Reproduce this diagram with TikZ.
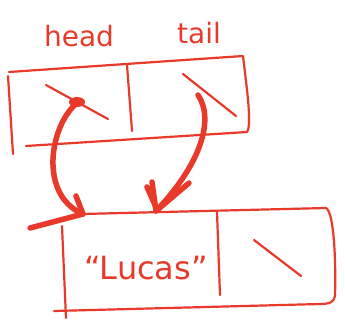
\documentclass[tikz,border=0pt]{standalone}
\usepackage{fontspec}
\setmainfont{DejaVu Sans}
\definecolor{ink}{HTML}{E8392A}
\tikzset{
  pen/.style={draw=ink, line width=2.2pt, line cap=round, line join=round},
  thick pen/.style={draw=ink, line width=5.5pt, line cap=round, line join=round},
  lbl/.style={text=ink, inner sep=0pt}
}
\begin{document}
\begin{tikzpicture}[x=1pt,y=-1pt]
\useasboundingbox (0,0) rectangle (345,321);
% labels
\node[lbl, font=\fontsize{28}{30}\selectfont] (headlbl) at (79,36) {head};
\node[lbl, font=\fontsize{28}{30}\selectfont] (taillbl) at (199,33) {tail};
% top box
\draw[pen] (9,72) -- (243,56) .. controls (247,90) and (252,125) .. (247,132) -- (26,146);
\draw[pen] (8,76) -- (13,154);
\draw[pen] (127,65) -- (132,131);
% head cross and tail slash
\draw[pen] (46,85) -- (108,119);
\draw[pen] (183,74) -- (236,116);
\fill[ink] (77,102) ellipse (8pt and 5pt);
\coordinate (hd) at (77,103);
\coordinate (tl) at (198,95);
% bottom box
\draw[pen] (82,214) -- (326,208) .. controls (334,212) and (336,260) .. (335,296) .. controls (334,302) and (330,304) .. (320,304) -- (54,311);
\draw[pen] (62,226) -- (66,318);
\draw[pen] (217,212) -- (220,295);
\draw[pen] (254,240) -- (301,276);
\node[lbl, font=\fontsize{32}{34}\selectfont] (val) at (146,268) {``Lucas''};
\coordinate (hdtip) at (83,214);
\coordinate (tltip) at (156,211);
% arrows
\draw[thick pen] (hd) .. controls (50,125) and (38,195) .. (hdtip);
\draw[thick pen] (76,196) -- (hdtip) -- (30,228);
\draw[thick pen] (tl) .. controls (215,120) and (200,165) .. (tltip);
\draw[thick pen] (152,182) -- (tltip) -- (189,183);
\draw[thick pen] (147,187) -- (155,205);
\end{tikzpicture}
\end{document}
